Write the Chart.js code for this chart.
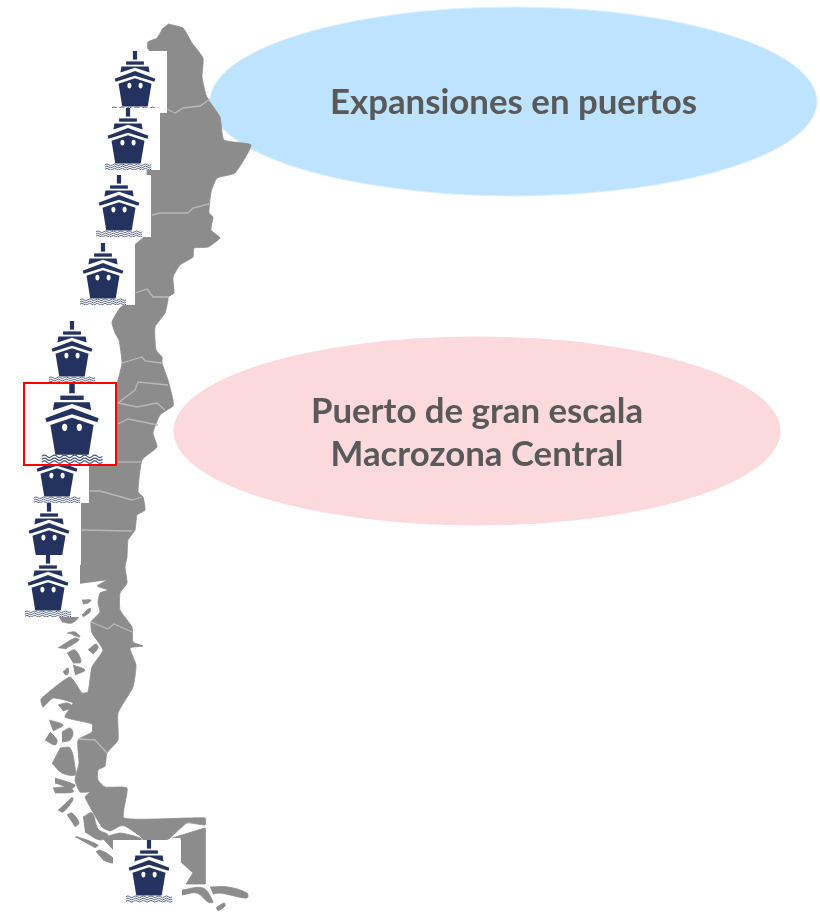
<!DOCTYPE html>
<html><head><meta charset="utf-8">
<style>html,body{margin:0;padding:0;background:#fff}canvas{display:block}</style>
<script src="https://cdn.jsdelivr.net/npm/chart.js@4/dist/chart.umd.min.js"></script>
</head><body><canvas id="c" width="820" height="916"></canvas>
<script>
// ---------- data, in picture coordinates ----------
const labelTop = ["Expansiones en puertos"];
const labelBottom = ["Puerto de gran escala", "Macrozona Central"];
const ellipseX = [513.5, 477];
const ellipseY = [101.5, 431];
const shipX = [135,128,119,103,72,57,49,48,147,70];
const shipY = [82,139,206,274,352,472,534,586,872,424];

const mainland = [[168,24],[183,28],[192,43],[203,58],[202,77],[206,95],[210,102],[220,117],[224,140],[251,145],[235,173],[217,178],[211,192],[209,213],[213,217],[211,230],[220,238],[208,247],[194,248],[193,257],[180,265],[173,277],[174,293],[168,297],[168,300],[165,313],[155,327],[156,350],[162,357],[162,363],[168,380],[173,400],[173,406],[160,415],[153,433],[157,447],[142,460],[138,492],[143,497],[145,510],[137,515],[135,530],[128,540],[127,557],[125,567],[127,583],[120,593],[120,610],[132,627],[133,642],[143,646],[130,648],[136,665],[133,687],[118,713],[118,740],[107,753],[105,766],[98,770],[98,780],[105,787],[127,788],[124,818],[205,818],[205,825],[187,823],[170,838],[158,845],[148,845],[140,836],[125,826],[120,826],[110,831],[102,827],[85,797],[90,792],[80,792],[75,780],[79,763],[78,740],[92,732],[92,724],[65,717],[73,703],[53,698],[43,707],[41,699],[70,677],[82,693],[88,692],[92,667],[103,650],[92,633],[91,622],[100,612],[98,603],[100,593],[108,590],[97,586],[107,580],[90,582],[70,583],[70,500],[85,470],[100,440],[118,380],[122,363],[119,340],[115,333],[112,322],[120,308],[130,300],[130,250],[145,235],[147,173],[150,110],[160,60],[148,49],[148,42],[157,38],[163,28]];
const fuego = [[172,838],[205,828],[205,884],[186,884],[193,873],[181,862],[181,838]];
const fuegoWest = [[102,838],[120,833],[140,838],[150,850],[113,850]];
const isles = [
 [[59,617],[78,617],[72,623],[62,622]],
 [[82,600],[91,600],[88,603],[83,604]],
 [[82,615],[90,608],[90,612],[83,617]],
 [[67,633],[75,632],[80,637],[73,635]],
 [[58,648],[75,638],[79,640],[65,649]],
 [[88,650],[96,644],[98,648],[93,654]],
 [[67,653],[75,650],[81,662],[73,663]],
 [[73,665],[85,670],[75,675]],
 [[63,672],[68,668],[68,674],[65,675]],
 [[58,705],[67,703],[73,707],[63,711]],
 [[49,720],[63,725],[53,731]],
 [[62,732],[70,728],[73,733],[70,740],[62,742]],
 [[50,732],[57,740],[55,745],[45,740]],
 [[60,748],[70,748],[75,767],[75,775],[62,773],[52,763]],
 [[55,778],[75,785],[72,788],[55,783]],
 [[53,788],[70,787],[73,792],[55,793]],
 [[72,797],[73,800],[63,812],[58,810]],
 [[67,815],[72,813],[79,823],[75,827]],
 [[83,817],[92,813],[98,829],[108,835],[100,840],[85,832]],
 [[75,837],[78,837],[98,845],[95,848]],
 [[96,852],[100,850],[113,858],[113,863],[103,860]],
 [[182,890],[203,888],[213,902],[208,902],[197,893],[182,895]],
 [[210,887],[228,887],[247,893],[247,898],[230,895],[220,893],[213,894]],
 [[216,908],[224,903],[225,906],[218,911]]
];
const borders = [
 [[167,109],[175,113],[183,108],[200,106],[210,99]],
 [[152,215],[160,213],[188,213],[193,208],[209,204]],
 [[135,293],[147,289],[153,297],[169,297]],
 [[122,363],[142,357],[145,361],[162,363]],
 [[118,403],[135,390],[138,382],[168,385]],
 [[118,403],[137,407],[157,403],[165,410]],
 [[118,424],[128,419],[158,425]],
 [[118,462],[141,462]],
 [[90,491],[100,491],[132,500],[142,497]],
 [[82,530],[132,531]],
 [[91,622],[108,629],[114,624],[132,632]],
 [[78,739],[95,740],[107,753]]
];

// ---------- styles ----------
const NAVY = '#24325f', GREY = '#8c8c8c', LINE = '#b9b9b9';
const TEXT = '#595959', BLUE = '#bde3ff', PINK = '#fbd9dc';

function ellipseIcon(color) {
  const c = document.createElement('canvas'); c.width = 610; c.height = 192;
  const g = c.getContext('2d'); g.fillStyle = color;
  g.beginPath(); g.ellipse(305, 96, 303.5, 94.5, 0, 0, Math.PI*2); g.fill();
  return c;
}
function poly(g, pts) {
  g.beginPath(); pts.forEach((p,i)=> i ? g.lineTo(p[0],p[1]) : g.moveTo(p[0],p[1]));
  g.closePath(); g.fill();
}
function drawShip(g, cx, top, s) {
  g.save(); g.translate(cx, top); g.scale(s, s);
  g.fillStyle = NAVY;
  g.fillRect(-2.1, 0, 4.2, 8.6);
  g.fillRect(-8.9, 10.4, 17.8, 3.3);
  poly(g, [[-13.6,15.5],[13.6,15.5],[14.6,21.6],[0,16.8],[-14.6,21.6]]);
  poly(g, [[0,20],[20.4,27.7],[19.4,30.8],[0,24.7],[-19.4,30.8],[-20.4,27.7]]);
  poly(g, [[0,27.3],[16.5,32.8],[12.7,55.6],[-12.7,55.6],[-16.5,32.8]]);
  g.fillStyle = '#fff';
  [-5.6,5.6].forEach(x=>{ g.beginPath(); g.ellipse(x,34.6,2,2.8,0,0,Math.PI*2); g.fill(); });
  g.strokeStyle = '#46527f'; g.lineWidth = 0.9;
  [56.8,59,61.2].forEach(y=>{
    g.beginPath(); g.moveTo(-23,y);
    for (let x=-23; x<23; x+=7.7) { g.quadraticCurveTo(x+1.9,y-1.8,x+3.85,y); g.quadraticCurveTo(x+5.8,y+1.8,x+7.7,y); }
    g.stroke();
  });
  g.restore();
}
function shipIcon(w, h, off, s, framed) {
  const c = document.createElement('canvas'); c.width = w; c.height = h;
  const g = c.getContext('2d');
  g.fillStyle = '#fff'; g.fillRect(0,0,w,h);
  drawShip(g, w/2+off, 0, s);
  if (framed) { g.strokeStyle = '#ff0000'; g.lineWidth = 2; g.strokeRect(1,1,w-2,h-2); }
  return c;
}
const normalShip = shipIcon(64, 62, 0, 1, false);
const southShip = shipIcon(68, 64, 2, 1, false);
const bigShip = shipIcon(94, 84, 2, 1.31, true);
const shipStyles = shipX.map((_,i)=> i===9 ? bigShip : i===8 ? southShip : normalShip);

const toXY = a => a.map(p=>({x:p[0], y:p[1]}));
const lineSet = pts => ({type:'scatter', data:toXY(pts), showLine:true, pointRadius:0, borderColor:LINE, borderWidth:1.3, fill:false, tension:0, clip:false});
const landSet = (pts, bend) => ({type:'scatter', data:toXY(pts), showLine:true, pointRadius:0, borderColor:GREY, borderWidth:0.8, backgroundColor:GREY, fill:'shape', tension:bend, clip:false});

const datasets = [
  {type:'scatter', data:shipX.map((x,i)=>({x, y:shipY[i]})), showLine:false, pointStyle:shipStyles, pointRadius:10, clip:false},
  ...borders.map(lineSet),
  landSet(mainland, 0.15), landSet(fuego, 0), landSet(fuegoWest, 0.15), ...isles.map(p=>landSet(p, 0.35)),
  {type:'scatter', data:ellipseX.map((x,i)=>({x, y:ellipseY[i]})), showLine:false, pointStyle:[ellipseIcon(BLUE), ellipseIcon(PINK)], pointRadius:10, clip:false}
];

const textPlugin = {
  id:'texts',
  afterDatasetsDraw(chart) {
    const {ctx, scales:{x, y}} = chart;
    ctx.save();
    ctx.fillStyle = TEXT; ctx.textAlign = 'center'; ctx.textBaseline = 'middle';
    ctx.font = 'bold 34.8px Lato, "Open Sans", sans-serif';
    ctx.fillText(labelTop[0], x.getPixelForValue(ellipseX[0]), y.getPixelForValue(103));
    ctx.fillText(labelBottom[0], x.getPixelForValue(ellipseX[1]), y.getPixelForValue(412));
    ctx.fillText(labelBottom[1], x.getPixelForValue(ellipseX[1]), y.getPixelForValue(455));
    ctx.restore();
  }
};

new Chart(document.getElementById('c'), {
  type:'scatter',
  data:{datasets},
  plugins:[textPlugin],
  options:{
    responsive:false, animation:false, events:[],
    layout:{padding:0, autoPadding:false},
    plugins:{legend:{display:false}, tooltip:{enabled:false}, title:{display:false}},
    scales:{
      x:{type:'linear', min:0, max:820, display:false},
      y:{type:'linear', min:0, max:916, reverse:true, display:false}
    }
  }
});
</script></body></html>
